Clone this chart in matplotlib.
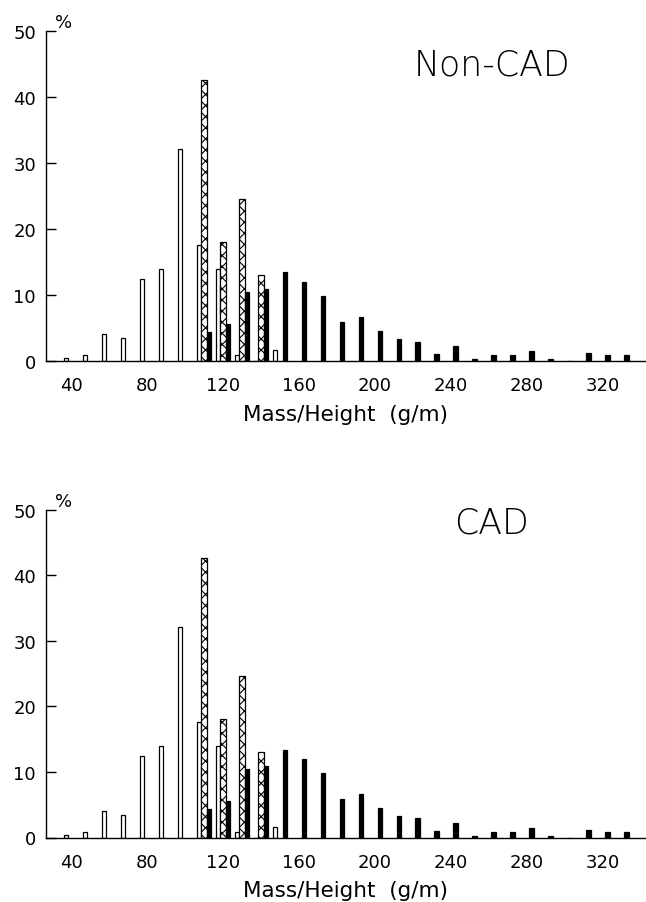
import matplotlib
matplotlib.use('Agg')
import matplotlib.pyplot as plt
import numpy as np

# ---- data (percent per mass/height bin, g/m) ----
open_bins = [40, 50, 60, 70, 80, 90, 100, 110, 120, 130, 140, 150]
open_vals = [0.4, 0.9, 4.1, 3.5, 12.4, 13.9, 32.1, 17.6, 13.9, 0.9, 0.0, 1.6]

hatch_bins = [110, 120, 130, 140]
hatch_vals = [42.6, 18.0, 24.6, 13.05]

black_bins = [110, 120, 130, 140, 150, 160, 170, 180, 190, 200, 210, 220,
              230, 240, 250, 260, 270, 280, 290, 300, 310, 320, 330]
black_vals = [4.4, 5.6, 10.4, 10.9, 13.4, 12.0, 9.8, 5.9, 6.7, 4.5, 3.3, 2.9,
              1.0, 2.2, 0.3, 0.8, 0.8, 1.5, 0.3, 0.0, 1.2, 0.8, 0.8]

x_ticks = [40, 80, 120, 160, 200, 240, 280, 320]
y_ticks = [0, 10, 20, 30, 40, 50]
panel_titles = ["Non-CAD", "CAD"]
x_label = "Mass/Height  (g/m)"

plt.rcParams['font.family'] = ['DejaVu Sans']
plt.rcParams['hatch.linewidth'] = 0.8

W, H = 646, 903
fig = plt.figure(figsize=(W / 100, H / 100), dpi=100)

def px_axes(left, right, top, bottom):
    return [left / W, 1 - bottom / H, (right - left) / W, (bottom - top) / H]

panels = [
    dict(rect=px_axes(45.7, 645, 32.3, 361.7), title_y=65),
    dict(rect=px_axes(45.7, 645, 510.7, 838.5), title_y=524),
]

for p, title in zip(panels, panel_titles):
    ax = fig.add_axes(p['rect'])
    ax.bar(np.array(open_bins) - 2.7, open_vals, width=2.4, color='white',
           edgecolor='black', linewidth=0.9)
    ax.bar(np.array(hatch_bins), hatch_vals, width=2.8, color='white',
           edgecolor='black', linewidth=0.9, hatch='xxx')
    ax.bar(np.array(black_bins) + 2.6, black_vals, width=2.4, color='black',
           edgecolor='black', linewidth=0.9)
    ax.set_xlim(26.6, 342.3)
    ax.set_ylim(0, 50)
    ax.spines['top'].set_visible(False)
    ax.spines['right'].set_visible(False)
    ax.spines['left'].set_linewidth(1.0)
    ax.spines['bottom'].set_linewidth(1.0)
    ax.set_xticks(x_ticks)
    ax.set_xticklabels([str(v) for v in x_ticks], fontsize=13)
    ax.set_yticks(y_ticks)
    ax.set_yticklabels([str(v) for v in y_ticks], fontsize=13)
    ax.tick_params(axis='x', length=0, pad=11)
    ax.tick_params(axis='y', direction='in', length=7, width=1.0, pad=7)
    ax.set_xlabel(x_label, fontsize=15.5, labelpad=7)
    ax.text(0.015, 1.0, "%", transform=ax.transAxes, fontsize=13,
            ha='left', va='bottom')
    fig.text(491.7 / W, 1 - p['title_y'] / H, title, fontsize=25,
             fontweight='light', ha='center', va='center')

fig.savefig('out.png', dpi=100)
